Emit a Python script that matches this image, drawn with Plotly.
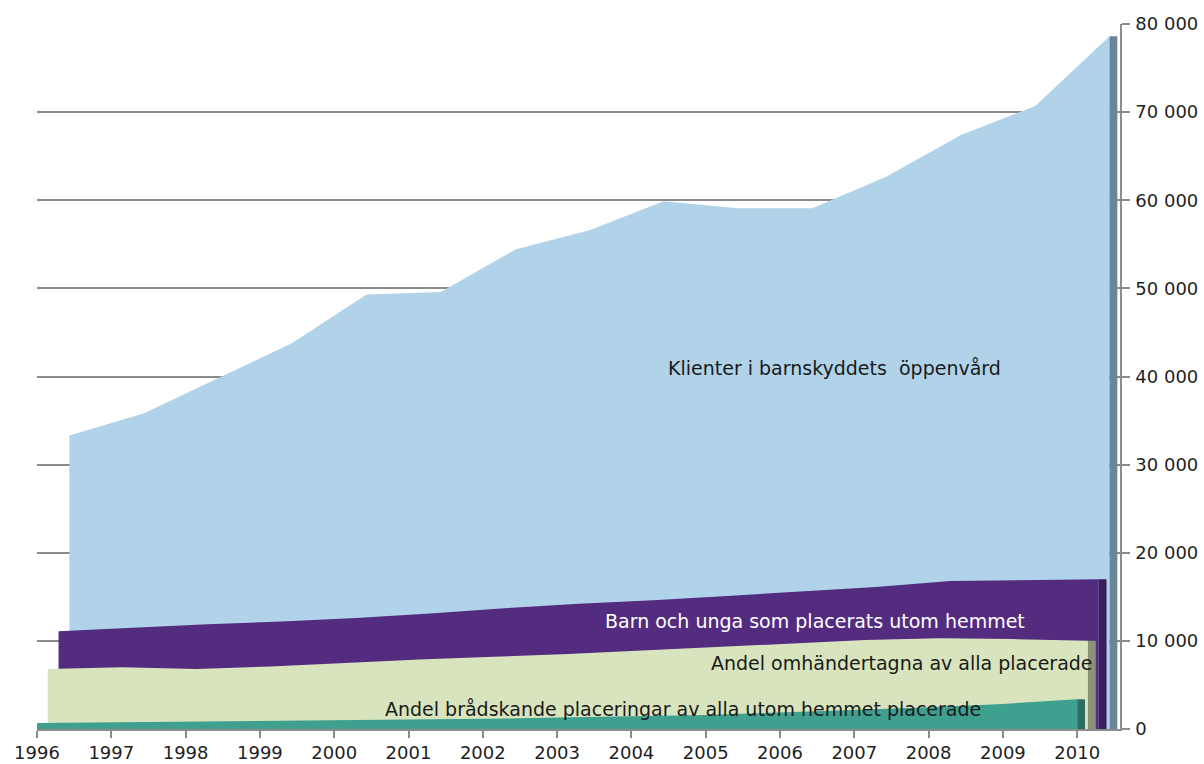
import plotly.graph_objects as go

years = list(range(1996, 2011))

klienter = [33300, 35800, 39800, 43800, 49300, 49600, 54400, 56600, 59900, 59100, 59100, 62700, 67400, 70700, 78600]
placerade = [11100, 11500, 11900, 12200, 12600, 13100, 13700, 14200, 14600, 15100, 15600, 16100, 16800, 16900, 17000]
omhandertagna = [6800, 7000, 6800, 7100, 7500, 7900, 8200, 8500, 8900, 9300, 9700, 10100, 10300, 10200, 10000]
bradskande = [680, 760, 820, 870, 920, 1020, 1150, 1300, 1440, 1590, 1880, 2170, 2460, 2850, 3370]

series_names = [
    "Klienter i barnskyddets  öppenvård",
    "Barn och unga som placerats utom hemmet",
    "Andel omhändertagna av alla placerade",
    "Andel brådskande placeringar av alla utom hemmet placerade",
]

y_tickvals = [0, 10000, 20000, 30000, 40000, 50000, 60000, 70000, 80000]
y_ticktext = ["0", "10 000", "20 000", "30 000", "40 000", "50 000", "60 000", "70 000", "80 000"]

# style: (values, front colour, side colour, depth offset in years)
series = [
    (klienter, "#b1d3ea", "#6b8598", 0.435),
    (placerade, "#532c80", "#3a1d5a", 0.29),
    (omhandertagna, "#d8e4bd", "#8c9277", 0.145),
    (bradskande, "#3fa08f", "#2b6e61", 0.0),
]
side_depth = 0.105

fig = go.Figure()
for (vals, col, side, off), name in zip(series, series_names):
    xs = [y + off for y in years]
    fig.add_trace(go.Scatter(x=xs, y=vals, mode="lines", line=dict(width=0, color=col),
                             fill="tozeroy", fillcolor=col, name=name, showlegend=False,
                             hoverinfo="skip"))
    fig.add_trace(go.Scatter(x=[xs[-1], xs[-1] + side_depth], y=[vals[-1], vals[-1]],
                             mode="lines", line=dict(width=0, color=side),
                             fill="tozeroy", fillcolor=side, showlegend=False,
                             hoverinfo="skip"))

label_pos = [
    (2006.74, 41000, "#1a1a1a"),
    (2006.47, 12260, "#ffffff"),
    (2007.64, 7490, "#1a1a1a"),
    (2004.69, 2270, "#1a1a1a"),
]
for (x, y, c), name in zip(label_pos, series_names):
    fig.add_annotation(x=x, y=y, xref="x", yref="y", text=name, showarrow=False,
                       font=dict(family="DejaVu Sans", size=19, color=c))

x_right = 1996 + (1120 - 37) / 74.3

fig.update_layout(
    width=1204, height=764,
    margin=dict(l=37, r=84, t=24, b=35),
    paper_bgcolor="white", plot_bgcolor="white",
    font=dict(family="DejaVu Sans", size=18, color="#1f1f1f"),
    showlegend=False,
    xaxis=dict(range=[1996, x_right], tickvals=years, ticktext=[str(y) for y in years],
               ticks="outside", ticklen=7, tickwidth=1.5, tickcolor="#8c8c8c",
               showline=True, linecolor="#8c8c8c", linewidth=1.5,
               showgrid=False, zeroline=False, automargin=False, fixedrange=True),
    yaxis=dict(range=[0, 80000], side="right", tickvals=y_tickvals, ticktext=y_ticktext,
               ticks="outside", ticklen=8, tickwidth=1.5, tickcolor="#8c8c8c",
               ticklabelstandoff=2,
               showline=True, linecolor="#8c8c8c", linewidth=1.5,
               showgrid=True, gridcolor="#8a8a8a", gridwidth=1.5,
               zeroline=False, automargin=False, fixedrange=True),
)

fig.write_html("out.html", config={"displayModeBar": False},
               post_script="document.body.style.margin='0';document.body.style.overflow='hidden';")
